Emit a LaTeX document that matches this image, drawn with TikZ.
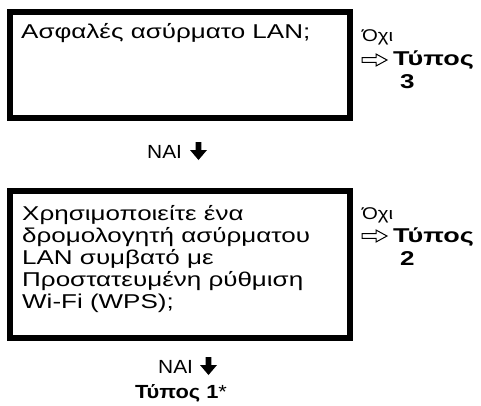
\documentclass[tikz,border=0pt]{standalone}
\usepackage{fontspec}
\usepackage{graphicx}
\setmainfont{Liberation Sans}
\newcommand\st[2][1.3]{\scalebox{#1}[1]{#2}}
\begin{document}
\begin{tikzpicture}[x=1pt,y=-1pt,
  box/.style={draw, line width=6pt, inner sep=0pt, anchor=north west},
  txt/.style={anchor=base west, inner sep=0pt, font=\fontsize{20}{22}\selectfont},
  yes/.style={anchor=base west, inner sep=0pt, font=\fontsize{19}{22}\selectfont},
  nolab/.style={anchor=base west, inner sep=0pt, font=\fontsize{17}{20}\selectfont},
  typ/.style={anchor=base west, inner sep=0pt, font=\fontsize{20}{22}\selectfont\bfseries},
  darrow/.pic={\fill (-2.8,0) -- (2.8,0) -- (2.8,8) -- (8.5,8) -- (0,18) -- (-8.5,8) -- (-2.8,8) -- cycle;},
  rarrow/.pic={\draw[line width=1pt, line join=miter] (0,-2.4) -- (14,-2.4) -- (14,-6) -- (25,0) -- (14,6) -- (14,2.4) -- (0,2.4) -- cycle;}
]
\useasboundingbox (0,0) rectangle (481,405);
% boxes
\node[box, minimum width=340pt, minimum height=106pt] (q1) at (7,9) {};
\node[box, minimum width=340pt, minimum height=147pt] (q2) at (7,188) {};
% question texts
\node[txt] (t1) at (21,38) {\st{Ασφαλές ασύρματο LAN;}};
\node[txt] (t2) at (22,220) {\st{\begin{tabular}[t]{@{}l@{}}Χρησιμοποιείτε ένα\\ δρομολογητή ασύρματου\\ LAN συμβατό με\\ Προστατευμένη ρύθμιση\\ Wi-Fi (WPS);\end{tabular}}};
% right labels box 1
\node[nolab] (n1) at (362,41) {\st[1.2]{Όχι}};
\pic at (362,60) {rarrow};
\node[typ] (ty3) at (393,65) {\st[1.35]{Τύπος}};
\node[typ] (d3) at (400,88) {\st{3}};
% right labels box 2
\node[nolab] (n2) at (362,219) {\st[1.2]{Όχι}};
\pic at (362,236) {rarrow};
\node[typ] (ty2) at (393,242) {\st[1.35]{Τύπος}};
\node[typ] (d2) at (400,265) {\st{2}};
% yes 1
\node[yes] (y1) at (147,158) {\st[1.1]{ΝΑΙ}};
\pic at (198.5,142) {darrow};
% yes 2
\node[yes] (y2) at (158,373) {\st[1.1]{ΝΑΙ}};
\pic at (208.5,357) {darrow};
\node[typ, anchor=base, font=\fontsize{19}{22}\selectfont\bfseries] (ty1) at (181,398) {\st[1.15]{Τύπος 1\mdseries*}};
\end{tikzpicture}
\end{document}
